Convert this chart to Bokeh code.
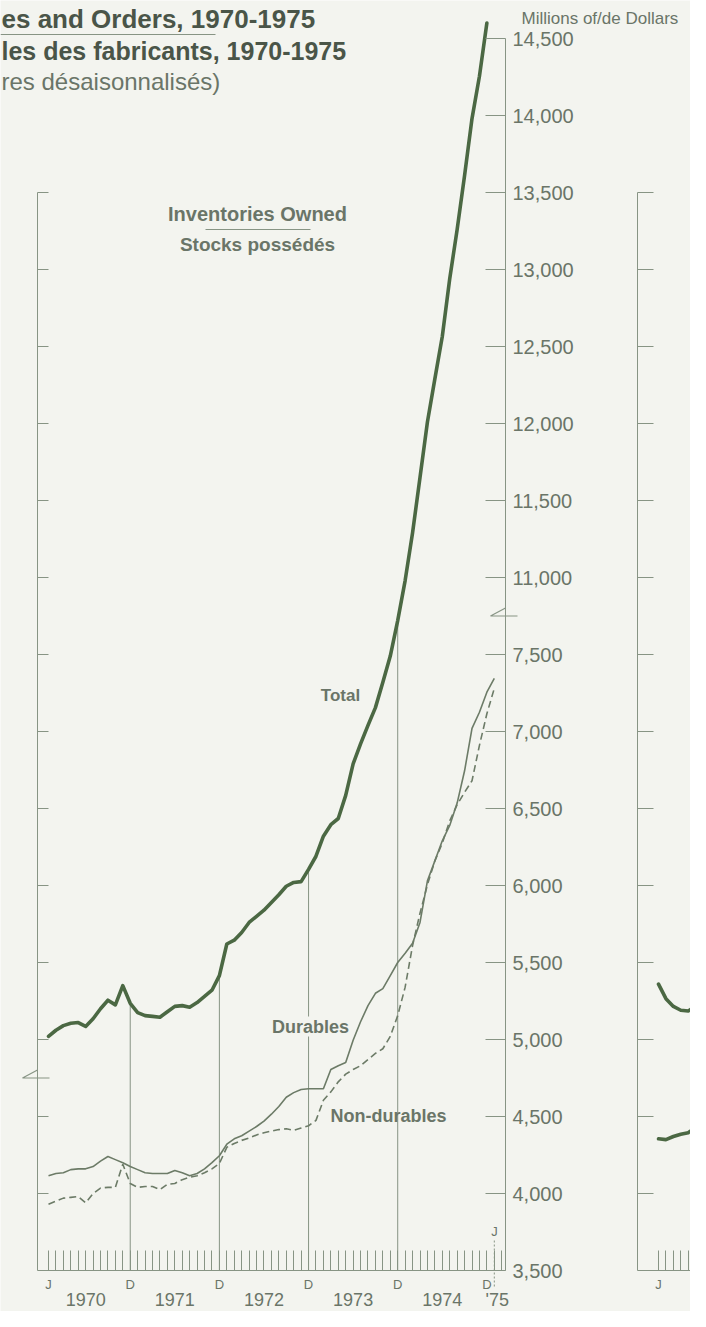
from bokeh.plotting import figure
from bokeh.models import Range1d, LinearAxis, FixedTicker, Label
from bokeh.embed import file_html
from bokeh.resources import INLINE

# ---------------- data ----------------
MONTHS = list(range(61))  # 0 = Jan 1970 ... 60 = Jan 1975

TOTAL = [8020, 8060, 8090, 8105, 8110, 8085, 8135, 8200, 8255, 8225, 8350, 8235,
         8175, 8155, 8150, 8145, 8180, 8215, 8220, 8210, 8240, 8280, 8320, 8415,
         8620, 8645, 8695, 8760, 8800, 8840, 8890, 8940, 8995, 9020, 9025, 9105,
         9190, 9320, 9395, 9435, 9585, 9790, 9920, 10040, 10155, 10320, 10490, 10720,
         10980, 11290, 11650, 12010, 12290, 12565, 12940, 13260, 13610, 13980, 14255, 14600]

DURABLES = [4115, 4130, 4135, 4155, 4160, 4160, 4175, 4210, 4240, 4220, 4200, 4175,
            4155, 4135, 4130, 4130, 4130, 4150, 4135, 4115, 4130, 4160, 4200, 4245,
            4320, 4355, 4375, 4405, 4435, 4470, 4515, 4565, 4625, 4655, 4675, 4680,
            4680, 4680, 4805, 4830, 4850, 4995, 5115, 5220, 5300, 5330, 5415, 5500,
            5560, 5625, 5760, 6030, 6160, 6290, 6390, 6535, 6745, 7020, 7125, 7255, 7345]

NON_DURABLES = [3930, 3950, 3970, 3975, 3980, 3940, 4000, 4035, 4040, 4040, 4190, 4065,
                4040, 4045, 4045, 4025, 4060, 4065, 4090, 4105, 4115, 4135, 4160, 4195,
                4300, 4325, 4345, 4360, 4380, 4395, 4405, 4415, 4420, 4410, 4425, 4440,
                4475, 4605, 4660, 4725, 4775, 4805, 4830, 4870, 4910, 4940, 5020, 5155,
                5340, 5610, 5820, 6005, 6160, 6275, 6420, 6525, 6605, 6680, 6910, 7115, 7280]

P2_MONTHS = [0, 1, 2, 3, 4, 5, 6]
P2_UPPER = [5360, 5265, 5215, 5190, 5185, 5215, 5270]
P2_LOWER = [4355, 4350, 4370, 4385, 4395, 4430, 4490]

LOWER_VALUES = [3500, 4000, 4500, 5000, 5500, 6000, 6500, 7000, 7500]
UPPER_VALUES = [11000, 11500, 12000, 12500, 13000, 13500, 14000, 14500]
BREAK_SHIFT = 3000          # upper segment: value v is drawn at v - 3000
LEFT_TICKS = [4000, 4500, 5000, 5500, 6000, 6500, 7000, 7500, 8000, 8500,
              9000, 9500, 10000, 10500]
MONTH_LABELS = {0: "J", 11: "D", 23: "D", 35: "D", 47: "D", 59: "D"}
YEAR_LABELS = ["1970", "1971", "1972", "1973", "1974", "'75"]
YEAR_POS = [5, 17, 29, 41, 53, 60.4]
GRID_DECEMBERS = [11, 23, 35, 47]

# ---------------- layout (pixels of the page) ----------------
W, H = 690, 1311
PX_M = 7.43            # px per month
PX_V = 0.154           # px per unit
J70_X = 48             # x of Jan 1970
BASE_Y = 1270          # y of 3,500
X_START = -J70_X / PX_M
X_END = (W - J70_X) / PX_M
Y_END = 3500 + BASE_Y / PX_V
Y_START = 3500 - (H - BASE_Y) / PX_V


def mx(px):
    return X_START + px / PX_M


def vy(py):
    return Y_END - py / PX_V


RIGHT_AXIS = mx(505)
LEFT_AXIS = mx(37)
P2_J = 658
P2_AXIS = (637 - P2_J) / PX_M

BG = "#f3f4ef"
AXC = "#879484"
TOTAL_C = "#4b6843"
SUB_C = "#6c7b67"
TXT = "#6a7568"
TITLE_C = "#4a5548"
FONT = "Liberation Sans"

p = figure(width=W, height=H, x_range=Range1d(X_START, X_END),
           y_range=Range1d(Y_START, Y_END), x_axis_type=None, y_axis_type=None,
           toolbar_location=None, output_backend="svg",
           min_border_left=0, min_border_right=0, min_border_top=0, min_border_bottom=0,
           background_fill_color=BG, border_fill_color=BG, outline_line_color=None)
p.extra_x_ranges = {"p2": Range1d(-P2_J / PX_M, (W - P2_J) / PX_M)}


def make_axis(ticks, tick_in=0, labels=None, standoff=6, size="13px", line=True,
              **kw):
    ax = LinearAxis(ticker=FixedTicker(ticks=ticks, minor_ticks=[]), **kw)
    ax.axis_line_color = AXC if line else None
    ax.major_tick_line_color = AXC if tick_in else None
    ax.major_tick_in = tick_in
    ax.major_tick_out = 0
    ax.minor_tick_line_color = None
    if labels is None:
        ax.major_label_text_color = None
    else:
        ax.major_label_overrides = labels
        ax.major_label_standoff = standoff
        ax.major_label_text_font = FONT
        ax.major_label_text_font_size = size
        ax.major_label_text_color = TXT
    return ax


# main left axis (its labels lie outside the picture)
p.add_layout(make_axis(LEFT_TICKS, 11, fixed_location=LEFT_AXIS, bounds=(3500, 10500)),
             "left")

# main right axis with scale break
r_coords = LOWER_VALUES + [v - BREAK_SHIFT for v in UPPER_VALUES]
r_labels = {c: f"{v:,}" for c, v in zip(r_coords, LOWER_VALUES + UPPER_VALUES)}
p.add_layout(make_axis(r_coords, 20, r_labels, 7, "20px", fixed_location=RIGHT_AXIS,
                       bounds=(3500, 11500)), "right")

# bottom month ticks, month letters and years
m_ticks = list(range(0, 62))
p.add_layout(make_axis(m_ticks, 20, fixed_location=3500, bounds=(LEFT_AXIS, RIGHT_AXIS)),
             "below")
mk = list(MONTH_LABELS.keys())
p.add_layout(make_axis(mk, 0, dict(MONTH_LABELS), 6, "13px", line=False,
                       fixed_location=3500), "below")
p.add_layout(make_axis(YEAR_POS, 0, dict(zip(YEAR_POS, YEAR_LABELS)), 19, "18px",
                       line=False, fixed_location=3500), "below")

# second panel axes
p.add_layout(make_axis(LEFT_TICKS, 16, x_range_name="p2", fixed_location=P2_AXIS,
                       bounds=(3500, 10500)), "left")
p.add_layout(make_axis(list(range(0, 6)), 20, x_range_name="p2", fixed_location=3500,
                       bounds=(P2_AXIS, 6)), "below")
p.add_layout(make_axis([0], 0, {0: "J"}, 6, "13px", line=False, x_range_name="p2",
                       fixed_location=3500), "below")

# vertical December rules from baseline up to the total curve
p.segment(x0=GRID_DECEMBERS, y0=[3500] * len(GRID_DECEMBERS), x1=GRID_DECEMBERS,
          y1=[TOTAL[m] - BREAK_SHIFT for m in GRID_DECEMBERS],
          line_color=AXC, line_width=1)

# Jan 1975 marker
p.segment(x0=[MONTHS[-1]], y0=[vy(1286)], x1=[MONTHS[-1]], y1=[vy(1238)],
          line_color=AXC, line_width=1, line_dash="2 2")


# scale-break symbols
def zig(ax_m, level):
    xs = [ax_m, ax_m - 15 / PX_M, ax_m + 12 / PX_M]
    ys = [level + 8 / PX_V, level, level]
    return xs, ys


zx, zy = zig(RIGHT_AXIS, 7750)
p.line(zx, zy, line_color=AXC, line_width=1.2)
zx, zy = zig(LEFT_AXIS, 4750)
p.line(zx, zy, line_color=AXC, line_width=1.2)

# series
p.line(MONTHS, NON_DURABLES, line_color=SUB_C, line_width=1.6, line_dash="7 4")
p.line(MONTHS, DURABLES, line_color=SUB_C, line_width=1.6)
p.line(MONTHS[:len(TOTAL)], [t - BREAK_SHIFT for t in TOTAL], line_color=TOTAL_C,
       line_width=3.6, line_join="round", line_cap="round")
p.line(P2_MONTHS, P2_UPPER, x_range_name="p2", line_color=TOTAL_C, line_width=3.6,
       line_join="round", line_cap="round")
p.line(P2_MONTHS, P2_LOWER, x_range_name="p2", line_color=TOTAL_C, line_width=3.6,
       line_join="round", line_cap="round")


def lab(px, py, text, size, color=TXT, bold=False, align="left", bg=None):
    p.add_layout(Label(x=mx(px), y=vy(py), text=text, text_font=FONT,
                       text_font_size=f"{size}px", text_color=color,
                       text_font_style="bold" if bold else "normal",
                       text_align=align, text_baseline="middle",
                       background_fill_color=bg))


# titles (start at the picture's left edge)
lab(1, 18, "es and Orders, 1970-1975", 26, TITLE_C, True)
p.segment(x0=[mx(0)], y0=[vy(34)], x1=[mx(215)], y1=[vy(34)], line_color=AXC,
          line_width=1)
lab(1, 50, "les des fabricants, 1970-1975", 25, TITLE_C, True)
lab(1, 81, "res désaisonnalisés)", 24, TXT)
lab(521, 18, "Millions of/de Dollars", 17, TXT)

lab(257, 213, "Inventories Owned", 20, TXT, True, "center")
p.segment(x0=[mx(205)], y0=[vy(229)], x1=[mx(310)], y1=[vy(229)], line_color=AXC,
          line_width=1)
lab(257, 244, "Stocks possédés", 19, TXT, True, "center")
lab(340, 695, "Total", 17, TXT, True, "center")
lab(310, 1026, "Durables", 18, TXT, True, "center", BG)
lab(388, 1115, "Non-durables", 18, TXT, True, "center")
lab(494, 1231, "J", 13, TXT, False, "center")

html = file_html(p, INLINE)
open("out.html", "w").write(html)
